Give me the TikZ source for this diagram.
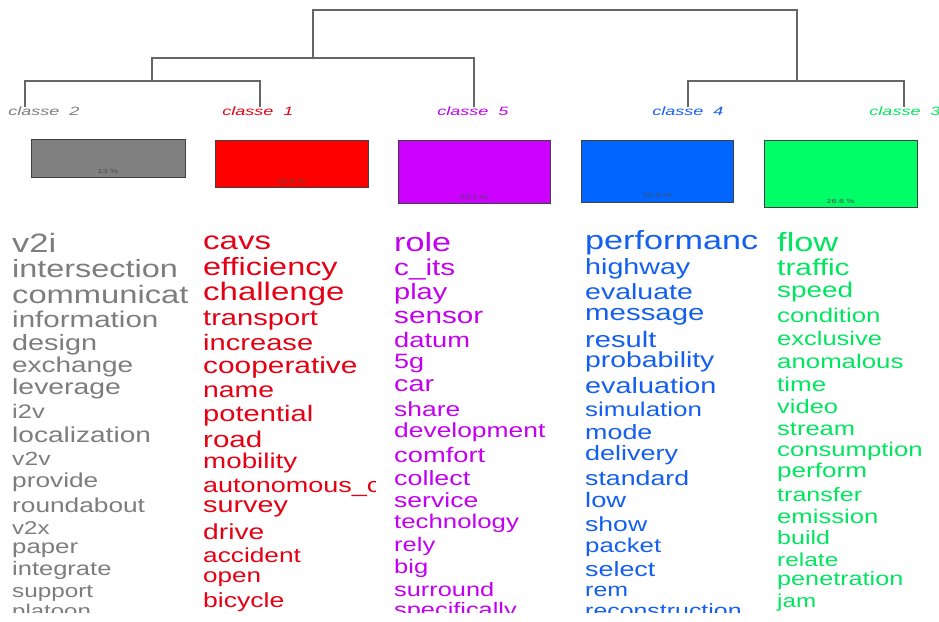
\documentclass[tikz,border=0pt]{standalone}
\usepackage{fontspec}
\newfontfamily\wf[FakeStretch=1.3]{Liberation Sans}
\newfontfamily\lf[FakeStretch=1.5]{Liberation Sans}
\definecolor{cgray}{RGB}{128,128,128}
\definecolor{cred}{RGB}{255,0,0}
\definecolor{cpurple}{RGB}{204,0,255}
\definecolor{cblue}{RGB}{0,102,255}
\definecolor{cgreen}{RGB}{0,255,102}
\definecolor{tgray}{RGB}{125,125,125}
\definecolor{tred}{RGB}{230,0,20}
\definecolor{tpurple}{RGB}{195,0,240}
\definecolor{tblue}{RGB}{20,95,240}
\definecolor{tgreen}{RGB}{0,230,95}
\tikzset{
  dend/.style={line width=1.5pt, draw=black!60},
  clabel/.style={font=\lf\itshape\fontsize{12}{12}\selectfont, inner sep=0pt},
  bar/.style={draw=black!75, line width=0.8pt, inner sep=0pt},
  pct/.style={font=\lf\fontsize{6}{6}\selectfont, text=black!70, inner sep=0pt},
  word/.style={inner sep=0pt, anchor=mid west}
}
\newcommand{\wordcol}[4]{% x, colour, name prefix, list
  \foreach \yy/\ss/\ww [count=\i] in {#4} {
    \pgfmathsetmacro\fs{\ss*1.154}
    \node[word, text=#2, font=\wf\fontsize{\fs}{\fs}\selectfont] (#3\i) at (#1,\yy+5) {\ww};
  }}
\begin{document}
\begin{tikzpicture}[x=1pt,y=-1pt]
\fill[white] (0,0) rectangle (939,621);
\useasboundingbox (0,0) rectangle (939,621);
% dendrogram
\coordinate (c2) at (25,107);
\coordinate (c1) at (260,107);
\coordinate (c5) at (474,107);
\coordinate (c4) at (688,107);
\coordinate (c3) at (904,107);
\coordinate (m21) at (152,81);
\coordinate (m215) at (313,58);
\coordinate (m43) at (797,81);
\coordinate (root) at (555,10);
\draw[dend] (c2) |- (m21) -| (c1);
\draw[dend] (m21) |- (m215) -| (c5);
\draw[dend] (c4) |- (m43) -| (c3);
\draw[dend] (m215) |- (root) -| (m43);
% class labels
\node[clabel, text=tgray] (l2) at (44,111) {classe\ \ 2};
\node[clabel, text=tred] (l1) at (258,111) {classe\ \ 1};
\node[clabel, text=tpurple] (l5) at (473,111) {classe\ \ 5};
\node[clabel, text=tblue] (l4) at (688,111) {classe\ \ 4};
\node[clabel, text=tgreen] (l3) at (905,111) {classe\ \ 3};
% bars
\node[bar, fill=cgray, minimum width=154pt, minimum height=38pt] (b2) at (108,158) {};
\node[bar, fill=cred, minimum width=153pt, minimum height=47pt] (b1) at (291.5,163.5) {};
\node[bar, fill=cpurple, minimum width=152pt, minimum height=63pt] (b5) at (474,171.5) {};
\node[bar, fill=cblue, minimum width=152pt, minimum height=62pt] (b4) at (657,171) {};
\node[bar, fill=cgreen, minimum width=153pt, minimum height=67pt] (b3) at (840.5,173.5) {};
\node[pct] (p2) at ([yshift=6pt]b2.south) {13 \%};
\node[pct] (p1) at ([yshift=6pt]b1.south) {16.8 \%};
\node[pct] (p5) at ([yshift=6pt]b5.south) {23.1 \%};
\node[pct] (p4) at ([yshift=7pt]b4.south) {20.5 \%};
\node[pct] (p3) at ([yshift=6pt]b3.south) {26.6 \%};
% classe 2 words
\begin{scope}
\clip (0,225) rectangle (190,612);
\wordcol{12}{tgray}{g}{245/23/v2i, 270/21.6/intersection, 296/21.8/communicat, 320/19.7/information, 343/19.2/design, 365/18.6/exchange, 387/18.9/leverage, 411/17/i2v, 435/18.7/localization, 458/16.5/v2v, 480/17.5/provide, 505/17.5/roundabout, 527/16/v2x, 546/17.2/paper, 568/17/integrate, 590/16.2/support, 610/16/platoon}
\end{scope}
% classe 1 words
\begin{scope}
\clip (195,225) rectangle (375,612);
\wordcol{203}{tred}{r}{242/22/cavs, 268/21.6/efficiency, 293/22/challenge, 318/19.4/transport, 343/19.4/increase, 366/19.9/cooperative, 390/18.9/name, 414/19.4/potential, 440/19.7/road, 461/18.5/mobility, 485/18/autonomous\_c, 505/19.2/survey, 532/18.8/drive, 555/17.5/accident, 575/17.4/open, 600/17.7/bicycle}
\end{scope}
% classe 5 words
\begin{scope}
\clip (388,225) rectangle (572,612);
\wordcol{394}{tpurple}{v}{244/22.8/role, 268/19.8/c\_its, 292/19.3/play, 316/19.8/sensor, 340/18.2/datum, 361/18/5g, 384/19.2/car, 409/17.6/share, 430/17.6/development, 455/18.2/comfort, 478/17.9/collect, 500/17.7/service, 521/17.2/technology, 544/17/rely, 566/17/big, 589/16.9/surround, 609/16.9/specifically}
\end{scope}
% classe 4 words
\begin{scope}
\clip (580,225) rectangle (762,612);
\wordcol{585}{tblue}{u}{242/22.8/performanc, 267/19.1/highway, 292/19/evaluate, 313/19.6/message, 340/19.4/result, 360/18.9/probability, 386/19.2/evaluation, 409/17.3/simulation, 432/17.9/mode, 453/18/delivery, 478/17.8/standard, 500/18.2/low, 524/17.7/show, 545/17.2/packet, 569/17.9/select, 589/16.6/rem, 610/16.6/reconstruction}
\end{scope}
% classe 3 words
\begin{scope}
\clip (770,225) rectangle (939,612);
\wordcol{777}{tgreen}{e}{244/22.9/flow, 268/19.9/traffic, 290/18.6/speed, 315/17.2/condition, 338/17/exclusive, 361/17.2/anomalous, 384/17.3/time, 406/17/video, 428/17/stream, 449/17.1/consumption, 470/17.4/perform, 494/16.7/transfer, 516/17.1/emission, 537/16.7/build, 559/16.3/relate, 578/16.8/penetration, 600/16.1/jam}
\end{scope}
\end{tikzpicture}
\end{document}
